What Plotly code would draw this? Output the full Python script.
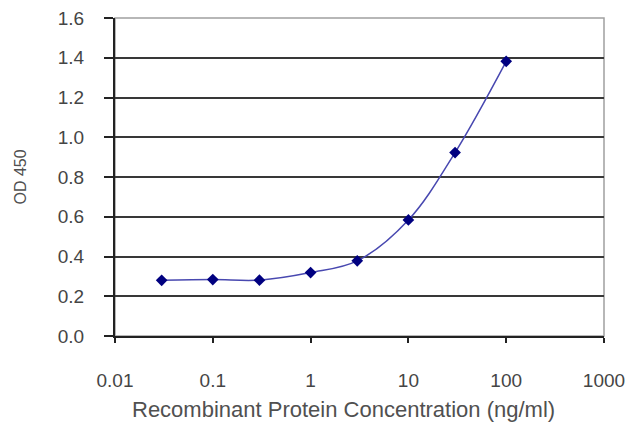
"""ELISA standard curve - OD 450 vs recombinant protein concentration."""

import plotly.graph_objects as go


# Data
concentration = [0.03, 0.1, 0.3, 1, 3, 10, 30, 100]
od_450 = [0.280, 0.284, 0.281, 0.319, 0.378, 0.584, 0.923, 1.382]

x_tick_vals = [0.01, 0.1, 1, 10, 100, 1000]
x_tick_text = ["0.01", "0.1", "1", "10", "100", "1000"]
y_tick_vals = [0.0, 0.2, 0.4, 0.6, 0.8, 1.0, 1.2, 1.4, 1.6]
y_tick_text = ["0.0", "0.2", "0.4", "0.6", "0.8", "1.0", "1.2", "1.4", "1.6"]

x_title = "Recombinant Protein Concentration (ng/ml)"
y_title = "OD 450"

FONT = "Liberation Sans, Arial, sans-serif"
TEXT_COLOR = "#454545"

fig = go.Figure()

fig.add_trace(go.Scatter(
    x=concentration,
    y=od_450,
    mode="lines+markers",
    line={"shape": "spline", "smoothing": 1.0, "width": 1.5,
          "color": "#4848b0"},
    marker={"symbol": "diamond", "size": 9, "color": "#000080"},
    showlegend=False
))

# Grey plot-area border (top and right); left and bottom axes drawn black
fig.add_shape(
    type="rect", xref="paper", yref="paper", x0=0, y0=0, x1=1, y1=1,
    line={"color": "#a0a0a0", "width": 1.5}, layer="below"
)

# X axis title sits a little left of the plot centre in the original
fig.add_annotation(
    text=x_title, xref="paper", yref="paper", x=0.468, y=-0.23,
    xanchor="center", yanchor="middle", showarrow=False,
    font={"size": 22, "color": "#505050"}
)

# The page body adds an 8px offset, so margins are set to compensate
fig.update_layout(
    width=640,
    height=427,
    paper_bgcolor="white",
    plot_bgcolor="white",
    margin={"l": 107, "r": 44, "t": 10, "b": 99},
    font={"family": FONT, "size": 19, "color": TEXT_COLOR},
    xaxis={
        "type": "log",
        "range": [-2, 3],
        "tickvals": x_tick_vals,
        "ticktext": x_tick_text,
        "automargin": False,
        "ticklabeloverflow": "allow",
        "showgrid": False,
        "zeroline": False,
        "showline": True,
        "linecolor": "#222222",
        "linewidth": 2,
        "ticks": "outside",
        "ticklen": 5,
        "tickwidth": 2,
        "tickcolor": "#222222",
        "ticklabelstandoff": 21,
    },
    yaxis={
        "range": [0, 1.6],
        "tickvals": y_tick_vals,
        "ticktext": y_tick_text,
        "automargin": False,
        "ticklabeloverflow": "allow",
        "showgrid": True,
        "gridcolor": "#383838",
        "gridwidth": 1.8,
        "zeroline": False,
        "showline": True,
        "linecolor": "#222222",
        "linewidth": 2,
        "ticks": "outside",
        "ticklen": 9,
        "tickwidth": 2,
        "tickcolor": "#222222",
        "ticklabelstandoff": 16,
        "title": {"text": y_title, "standoff": 27,
                  "font": {"size": 16, "color": "#505050"}},
    },
)

fig.write_html("out.html")
